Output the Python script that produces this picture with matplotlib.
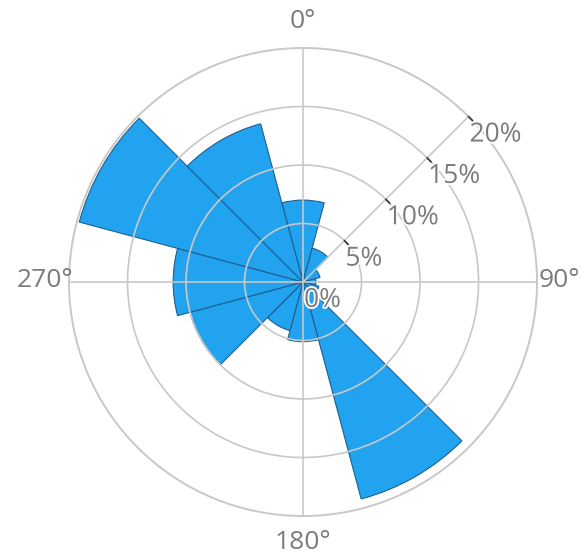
import numpy as np
import matplotlib
matplotlib.use('Agg')
import matplotlib.pyplot as plt
import matplotlib.patheffects as pe

# Windrichtung (Grad) und Häufigkeit (%)
directions = [0, 30, 60, 90, 120, 150, 180, 210, 240, 270, 300, 330]
frequency = [7.0, 3.0, 1.5, 1.1, 1.4, 19.2, 5.1, 4.3, 10.0, 11.1, 19.8, 14.0]
sector_width = 30

angle_ticks = [0, 90, 180, 270]
angle_labels = ['0°', '90°', '180°', '270°']
radial_ticks = [0, 5, 10, 15, 20]
radial_labels = ['0%', '5%', '10%', '15%', '20%']

plt.rcParams['font.family'] = ['Open Sans', 'DejaVu Sans']

grid_col = '#c8c8c8'
text_col = '#7b7b7b'

fig = plt.figure(figsize=(5.84, 5.53), dpi=100)
ax = fig.add_axes([0.1182, 0.0669, 0.8014, 0.8463], projection='polar')
ax.set_theta_zero_location('N')
ax.set_theta_direction(-1)

ax.bar(np.deg2rad(directions), frequency, width=np.deg2rad(sector_width),
       color='#22a3f0', edgecolor='#1d5f90', linewidth=0.8, zorder=1)

ax.set_rlim(0, radial_ticks[-1])
ax.set_rticks(radial_ticks[1:-1])
ax.set_yticklabels([])
ax.set_xticks(np.deg2rad(angle_ticks))
ax.set_xticklabels([])
ax.set_axisbelow(False)
ax.grid(True, color=grid_col, linewidth=1.2)
ax.spines['polar'].set_color(grid_col)
ax.spines['polar'].set_linewidth(1.4)
ax.tick_params(length=0)

# Winkelbeschriftungen
offsets = {0: (0, 27, 'center'), 90: (2, 2, 'left'), 180: (0, -26, 'center'), 270: (4, 2, 'right')}
for a, lab in zip(angle_ticks, angle_labels):
    dx, dy, ha = offsets[a]
    ax.annotate(lab, xy=(np.deg2rad(a), radial_ticks[-1]), xytext=(dx, dy),
                textcoords='offset pixels', ha=ha, va='center',
                fontsize=19, color=text_col, annotation_clip=False)

# radiale Achse bei 45°
ax.plot([np.deg2rad(45), np.deg2rad(45)], [0, radial_ticks[-1]], color=grid_col,
        linewidth=1.2, zorder=3)
for r, lab in zip(radial_ticks, radial_labels):
    if r > 0:
        ax.annotate('', xy=(np.deg2rad(45), r), xytext=(4, -4), textcoords='offset pixels',
                    arrowprops=dict(arrowstyle='-', color='#333333', lw=1.2,
                                    shrinkA=0, shrinkB=0), annotation_clip=False)
    ax.annotate(lab, xy=(np.deg2rad(45), r), xytext=(1, -6), textcoords='offset pixels',
                ha='left', va='top', fontsize=19, color=text_col, zorder=5,
                annotation_clip=False,
                path_effects=[pe.withStroke(linewidth=2.5, foreground='white')])

plt.savefig('out.png', dpi=100)
